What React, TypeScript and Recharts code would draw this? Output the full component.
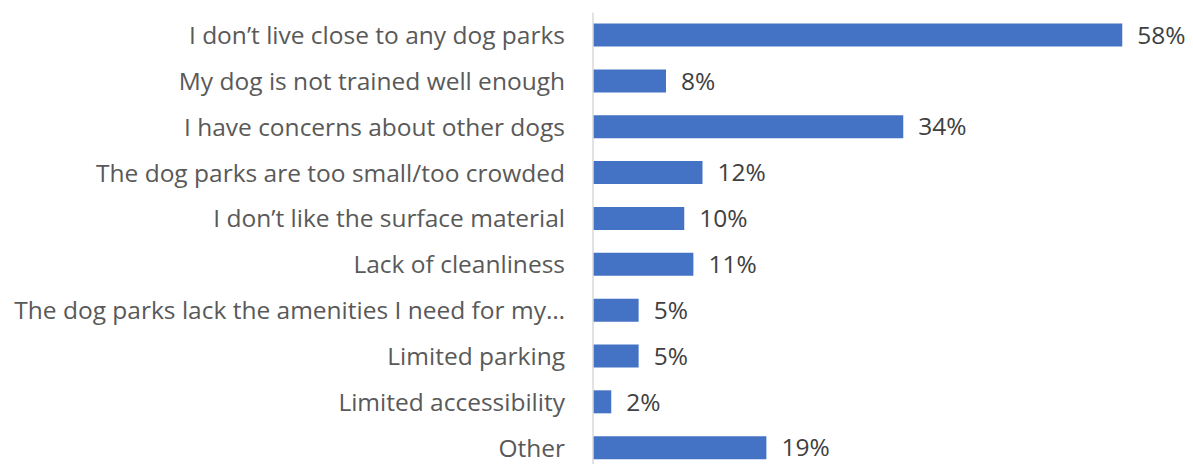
import React from 'react';
import { BarChart, Bar, XAxis, YAxis, LabelList } from 'recharts';

const categories = [
  'I don’t live close to any dog parks',
  'My dog is not trained well enough',
  'I have concerns about other dogs',
  'The dog parks are too small/too crowded',
  'I don’t like the surface material',
  'Lack of cleanliness',
  'The dog parks lack the amenities I need for my…',
  'Limited parking',
  'Limited accessibility',
  'Other',
];
const percents = [58, 8, 34, 12, 10, 11, 5, 5, 2, 19];

const data = categories.map((name, i) => ({ name, value: percents[i] }));

const FONT = '"Open Sans", sans-serif';

// 类目标签：右对齐，靠近坐标轴
const CategoryTick = (props: any) => {
  const { y, payload } = props;
  return (
    <text x={565} y={y} dy={8.5} textAnchor="end" fill="#595959" fontSize={24.5} fontFamily={FONT}>
      {payload.value}
    </text>
  );
};

export default function App() {
  return (
    <div style={{ position: 'absolute', left: 0, top: 0, width: 1193, height: 464, overflow: 'hidden', background: '#fff' }}>
      <BarChart
        layout="vertical"
        width={1193}
        height={490}
        data={data}
        margin={{ top: 12.6, right: 16, bottom: 19, left: 0 }}
        barSize={23}
      >
        <XAxis type="number" domain={[0, 64]} hide />
        <YAxis
          type="category"
          dataKey="name"
          width={593}
          axisLine={{ stroke: '#d9d9d9', strokeWidth: 1.5 }}
          tickLine={false}
          tick={<CategoryTick />}
          interval={0}
        />
        <Bar dataKey="value" fill="#4472C4" isAnimationActive={false}>
          <LabelList
            dataKey="value"
            position="right"
            offset={15}
            formatter={(v: any) => `${v}%`}
            fill="#404040"
            fontSize={24.5}
            fontFamily={FONT}
          />
        </Bar>
      </BarChart>
    </div>
  );
}
